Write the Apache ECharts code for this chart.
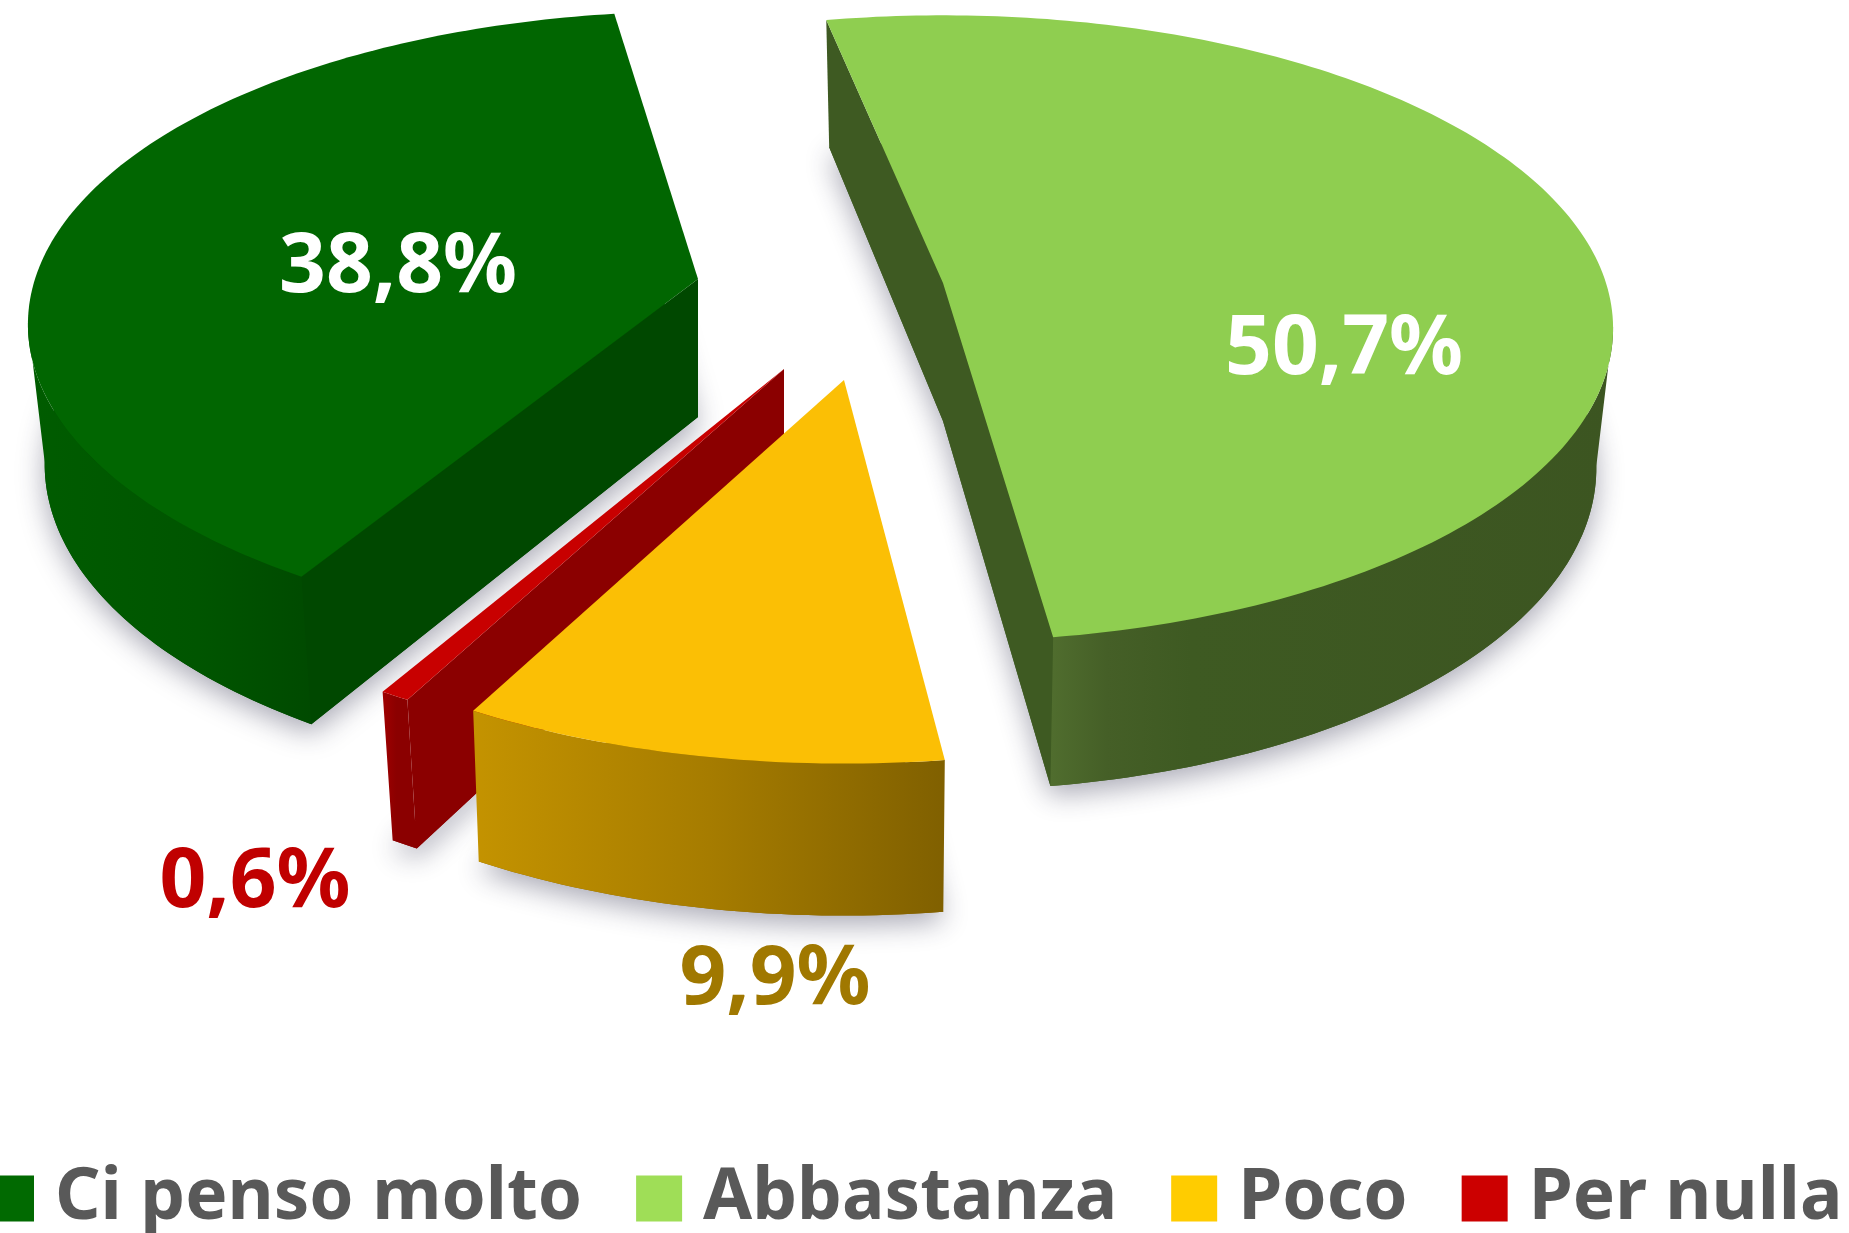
<!DOCTYPE html>
<html><head><meta charset="utf-8">
<style>html,body{margin:0;padding:0;background:#fff}#c{width:1849px;height:1233px}</style>
<script src="https://cdn.jsdelivr.net/npm/echarts@6/dist/echarts.min.js"></script>
</head><body><div id="c"></div>
<script>
const categories = ['Ci penso molto', 'Abbastanza', 'Poco', 'Per nulla'];
const values = [38.8, 50.7, 9.9, 0.6];

// presentation of the exploded 3D pie (not data)
const START_ANGLE = -9.8, RX = 663, RY = 306.5, PERSP = 0.145, DEPTH = 136, DEPTH_V = 11;
const apex = [[698,279],[943,283],[844,380],[784,369]];
const scale = [1,1,1.07,1.07];
const scaleX = [1,1,0.96,0.975];
const lowerX = [0.975,0.975,0.985,0.975];
const depthExtra = [2,2,5,3];
const rotate = [1.1,-1.8,0,0];
const spanExtra = [0.4,0.9,0,0];
const legendColor = ['#016A01','#9FDE57','#FFCC00','#CC0000'];
const topColor = ['#016601','#8FCE50','#FBBF05','#C80000'];
const faceColor = ['#004800','#3E5A22','#8A6500','#8B0000'];
const wallStops = [[[0,'#005C00'],[0.6,'#005500'],[1,'#004A00']],[[0,'#506D2E'],[0.1,'#455F27'],[0.25,'#3E5A22'],[1,'#3C5521']],[[0,'#C49300'],[0.5,'#A67C00'],[1,'#806000']],[[0,'#A00000'],[0.4,'#8B0000'],[1,'#8B0000']]];
const labelColor = ['#FFFFFF','#FFFFFF','#A07800','#C00000'];
const labelPos = [[398,269],[1344,351],[775,981],[255,884]];
const FONT = '"Noto Sans", Lato, sans-serif';

const order = [1,2,3,0]; // clockwise order of the slices
function cumulativeBefore(i){let s=0;for(let k=0;k<order.length;k++){if(order[k]===i)break;s+=values[order[k]];}return s;}

function point(i, deg, r, lower){
  const t = deg*Math.PI/180, u = r*Math.sin(t), v = -r*Math.cos(t);
  const s = scale[i]/(1-PERSP*v);
  let dx = RX*u*s*scaleX[i], dy = RY*v*s;
  if(lower){dx*=lowerX[i]; dy+=DEPTH+depthExtra[i]+DEPTH_V*v;}
  return [apex[i][0]+dx, apex[i][1]+dy];
}
function arc(i,a,b,lower){const n=Math.max(3,Math.ceil(Math.abs(b-a))),o=[];for(let k=0;k<=n;k++)o.push(point(i,a+(b-a)*k/n,1,lower));return o;}

function renderSlice(i){
  return function(params, api){
    const val = api.value(0), before = api.value(1);
    const a = START_ANGLE + rotate[i] + before*3.6, b = a + val*3.6 + spanExtra[i];
    const kids = [];
    const lowerOutline = [point(i,0,0,true)].concat(arc(i,a,b,true));
    kids.push({type:'polygon',shape:{points:lowerOutline},style:{fill:faceColor[i],shadowBlur:28,shadowColor:'rgba(40,40,70,0.4)',shadowOffsetY:9,shadowOffsetX:0}});
    // radial walls facing the viewer
    const norm = [[-Math.cos(a*Math.PI/180),-Math.sin(a*Math.PI/180),a],[Math.cos(b*Math.PI/180),Math.sin(b*Math.PI/180),b]];
    norm.forEach(function(n){
      if(n[1]>0){
        kids.push({type:'polygon',shape:{points:[point(i,n[2],0,false),point(i,n[2],1,false),point(i,n[2],1,true),point(i,n[2],0,true)]},style:{fill:faceColor[i]}});
      }
    });
    // outer wall, closed at the silhouette of the disc
    const wa = Math.max(a,98), wb = Math.min(b,262);
    if(wb>wa){
      const pts = arc(i,wa,wb,false).concat(arc(i,wa,wb,true).reverse());
      const cs = wallStops[i].map(function(c){return {offset:c[0],color:c[1]};});
      kids.push({type:'polygon',shape:{points:pts},style:{fill:{type:'linear',x:0,y:0,x2:1,y2:0,colorStops:cs}}});
    }
    // top
    kids.push({type:'polygon',shape:{points:[point(i,0,0,false)].concat(arc(i,a,b,false))},style:{fill:topColor[i]}});
    // value label
    kids.push({type:'text',z2:50,style:{x:labelPos[i][0],y:labelPos[i][1],text:String(val).replace('.',',')+'%',fill:labelColor[i],font:'700 82px '+FONT,textAlign:'center',textVerticalAlign:'middle'}});
    return {type:'group',children:kids};
  };
}

const drawOrder = [0,1,3,2];
const series = drawOrder.map(function(i){
  return {type:'custom',name:categories[i],coordinateSystem:'none',silent:true,
    itemStyle:{color:legendColor[i]},renderItem:renderSlice(i),
    data:[[values[i],cumulativeBefore(i)]],encode:{}};
});

const chart = echarts.init(document.getElementById('c'),null,{renderer:'canvas'});
chart.setOption({
  animation:false,backgroundColor:'#fff',
  legend:{data:categories,left:-12,top:1163,width:2000,itemWidth:46,itemHeight:46,itemGap:54,icon:'rect',selectedMode:false,
    padding:0,
    textStyle:{color:'#595959',fontFamily:FONT,fontWeight:700,fontSize:71,padding:[4,0,0,16]}},
  series:series
});
</script></body></html>
